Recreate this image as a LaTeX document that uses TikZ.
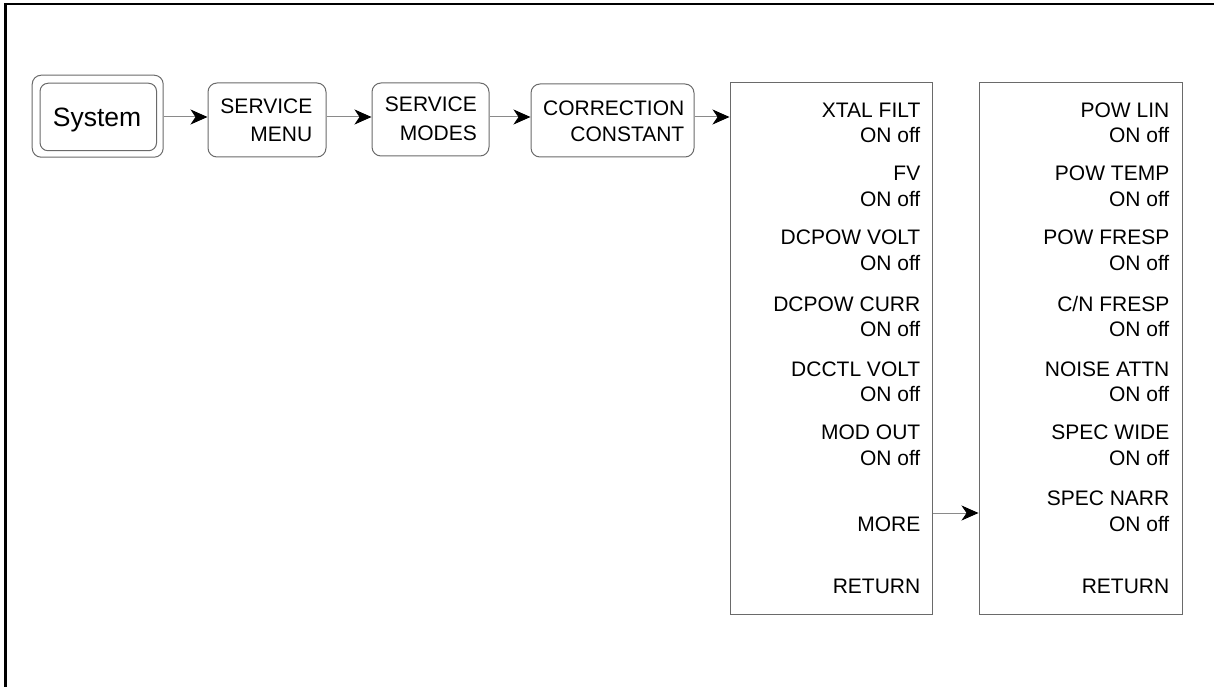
\documentclass[tikz,border=0pt]{standalone}
\usepackage{fontspec}
\setmainfont{Liberation Sans}
\usetikzlibrary{arrows.meta}
\definecolor{boxgray}{HTML}{6A6A6A}
\definecolor{linegray}{HTML}{8A8A8A}
\begin{document}
\begin{tikzpicture}[x=1pt,y=-1pt,
  keybox/.style={draw=boxgray,line width=1pt,rounded corners=9pt,inner sep=0pt},
  menubox/.style={draw=boxgray,line width=1pt,inner sep=0pt},
  lbl/.style={inner sep=0pt,anchor=base east,font=\fontsize{21}{25}\selectfont},
  conn/.style={draw=linegray,line width=1pt,-{Stealth[length=17pt,width=15pt,inset=5pt,color=black]}}
]
\useasboundingbox (0,0) rectangle (1214,687);
% frame
\draw[line width=2.4pt] (5.5,687) -- (5.5,4.2) -- (1214,4.2);

% System key
\node[keybox,minimum width=131pt,minimum height=82pt] (sysout) at (97.7,116.2) {};
\node[keybox,rounded corners=8pt,minimum width=116.5pt,minimum height=67.5pt] (sysin) at (98.3,117) {};
\node[inner sep=0pt,anchor=base,font=\fontsize{26.5}{30}\selectfont] (systxt) at (97,126.7) {System};

% top row boxes
\node[keybox,minimum width=118pt,minimum height=74pt] (menu) at (267,120) {};
\node[lbl] (menu1) at (312.5,113.3) {SERVICE};
\node[lbl] (menu2) at (312.5,141.7) {MENU};

\node[keybox,minimum width=117pt,minimum height=73pt] (modes) at (430.5,119.5) {};
\node[lbl] (modes1) at (477,111.7) {SERVICE};
\node[lbl] (modes2) at (477,141) {MODES};

\node[keybox,minimum width=163pt,minimum height=73pt] (corr) at (612.5,120.5) {};
\node[lbl] (corr1) at (684.5,115.7) {CORRECTION};
\node[lbl] (corr2) at (684.5,141.7) {CONSTANT};

% menu boxes
\node[menubox,minimum width=202pt,minimum height=531pt] (m1) at (831,348.5) {};
\node[menubox,minimum width=203pt,minimum height=531pt] (m2) at (1080.5,348.5) {};

\coordinate (rowtop) at (0,117);
\coordinate (rowmore) at (0,513);

% left menu labels
\node[lbl] (a1) at (920.5,117.7) {XTAL FILT};
\node[lbl] (a1b) at (920.5,143) {ON off};
\node[lbl] (a2) at (920.5,181) {FV};
\node[lbl] (a2b) at (920.5,206.5) {ON off};
\node[lbl] (a3) at (920.5,244.5) {DCPOW VOLT};
\node[lbl] (a3b) at (920.5,270) {ON off};
\node[lbl] (a4) at (920.5,311) {DCPOW CURR};
\node[lbl] (a4b) at (920.5,336.5) {ON off};
\node[lbl] (a5) at (920.5,376) {DCCTL VOLT};
\node[lbl] (a5b) at (920.5,401.5) {ON off};
\node[lbl] (a6) at (920.5,439.5) {MOD OUT};
\node[lbl] (a6b) at (920.5,465) {ON off};
\node[lbl] (more) at (920.5,531) {MORE};
\node[lbl] (ret1) at (920.5,593.5) {RETURN};

% right menu labels
\node[lbl] (b1) at (1169.5,117.7) {POW LIN};
\node[lbl] (b1b) at (1169.5,143) {ON off};
\node[lbl] (b2) at (1169.5,181) {POW TEMP};
\node[lbl] (b2b) at (1169.5,206.5) {ON off};
\node[lbl] (b3) at (1169.5,244.5) {POW FRESP};
\node[lbl] (b3b) at (1169.5,270) {ON off};
\node[lbl] (b4) at (1169.5,311) {C/N FRESP};
\node[lbl] (b4b) at (1169.5,336.5) {ON off};
\node[lbl] (b5) at (1169.5,376) {NOISE ATTN};
\node[lbl] (b5b) at (1169.5,401.5) {ON off};
\node[lbl] (b6) at (1169.5,439.5) {SPEC WIDE};
\node[lbl] (b6b) at (1169.5,465) {ON off};
\node[lbl] (b7) at (1169.5,505.5) {SPEC NARR};
\node[lbl] (b7b) at (1169.5,531) {ON off};
\node[lbl] (ret2) at (1169.5,593.5) {RETURN};

% connectors
\draw[conn] (sysout.east |- rowtop) -- (menu.west |- rowtop);
\draw[conn] (menu.east |- rowtop) -- (modes.west |- rowtop);
\draw[conn] (modes.east |- rowtop) -- (corr.west |- rowtop);
\draw[conn] (corr.east |- rowtop) -- (m1.west |- rowtop);
\draw[conn] (m1.east |- rowmore) -- (m2.west |- rowmore);
\end{tikzpicture}
\end{document}
